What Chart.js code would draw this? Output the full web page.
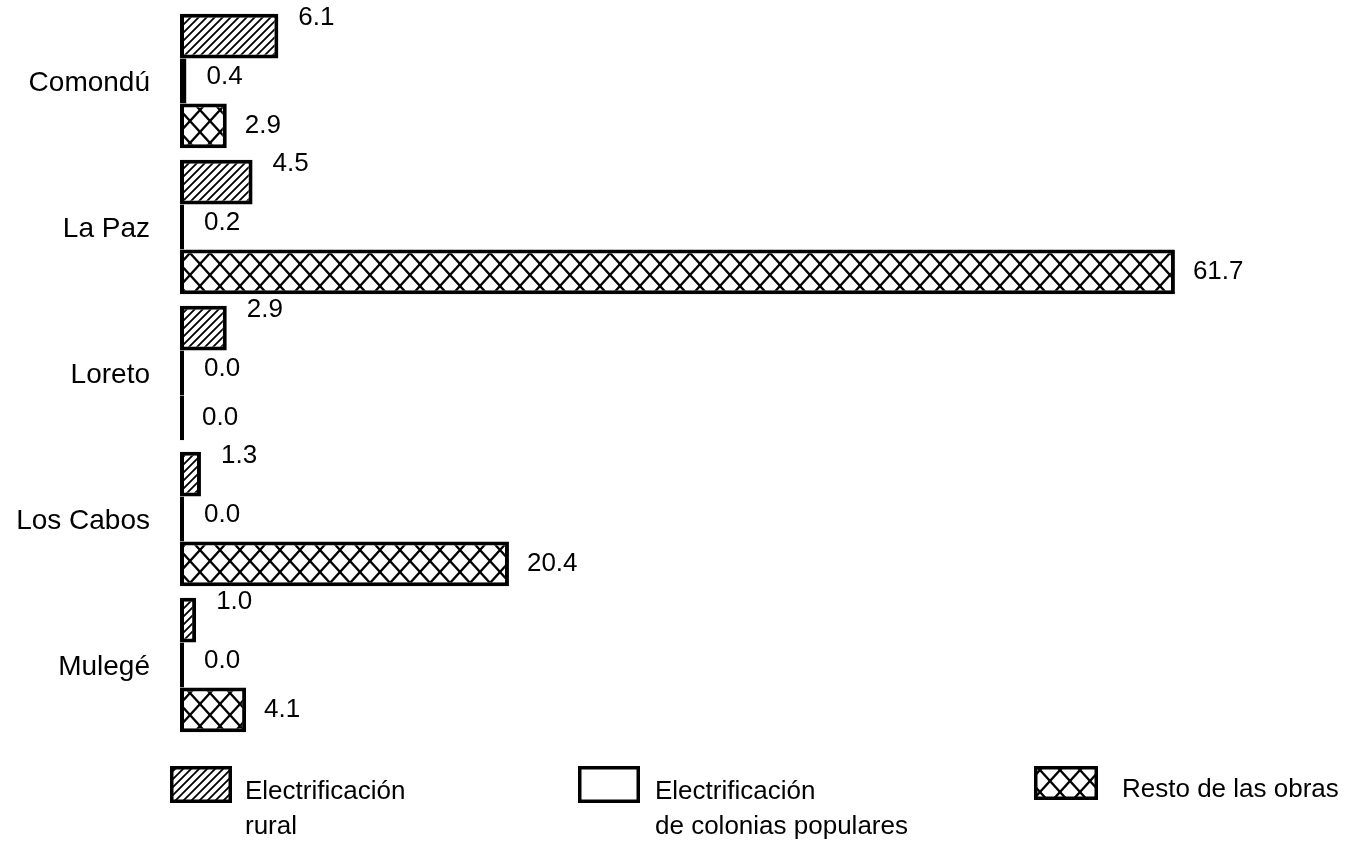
<!DOCTYPE html>
<html>
<head>
<meta charset="utf-8">
<script src="https://cdn.jsdelivr.net/npm/chart.js@4.4.1/dist/chart.umd.min.js"></script>
<style>
  html, body { margin: 0; padding: 0; background: #fff; }
  #wrap { width: 1360px; height: 848px; }
</style>
</head>
<body>
<div id="wrap"><canvas id="chart"></canvas></div>
<script>
const municipios = ['Comondú', 'La Paz', 'Loreto', 'Los Cabos', 'Mulegé'];
const electrificacionRural = [6.1, 4.5, 2.9, 1.3, 1.0];
const coloniasPopulares = [0.4, 0.2, 0.0, 0.0, 0.0];
const restoObras = [2.9, 61.7, 0.0, 20.4, 4.1];
const serieNombres = [
    ['Electrificación', 'rural'],
    ['Electrificación', 'de colonias populares'],
    ['Resto de las obras'],
];

const FONT = "'Liberation Sans', Arial, Helvetica, sans-serif";
const canvas = document.getElementById('chart');
const mainCtx = canvas.getContext('2d');

function makePattern(w, h, draw) {
    const tile = document.createElement('canvas');
    tile.width = w;
    tile.height = h;
    const g = tile.getContext('2d');
    g.fillStyle = '#fff';
    g.fillRect(0, 0, w, h);
    g.strokeStyle = '#000';
    draw(g);
    return mainCtx.createPattern(tile, 'repeat');
}

// diagonal "/" hatch for rural electrification
const ruralFill = makePattern(8, 8, (g) => {
    g.lineWidth = 1.8;
    g.beginPath();
    g.moveTo(-2, 10); g.lineTo(10, -2);
    g.moveTo(-2, 2); g.lineTo(2, -2);
    g.moveTo(6, 10); g.lineTo(10, 6);
    g.stroke();
});

// diamond cross-hatch for the rest of the works
const restoFill = makePattern(20, 22, (g) => {
    g.lineWidth = 2.3;
    g.beginPath();
    g.moveTo(-1, -1.1); g.lineTo(21, 23.1);
    g.moveTo(21, -1.1); g.lineTo(-1, 23.1);
    g.stroke();
});

const fills = [ruralFill, '#fff', restoFill];
// label offsets per series (dx from bar end, dy from bar centre)
const labelShift = [{ dx: 20, dy: -18 }, { dx: 20, dy: -4 }, { dx: 18, dy: 0 }];

const valueLabels = {
    id: 'valueLabels',
    afterDatasetsDraw(chart) {
        const { ctx } = chart;
        ctx.save();
        ctx.font = `26px ${FONT}`;
        ctx.fillStyle = '#000';
        ctx.textAlign = 'left';
        ctx.textBaseline = 'middle';
        chart.data.datasets.forEach((ds, di) => {
            const meta = chart.getDatasetMeta(di);
            meta.data.forEach((bar, i) => {
                const end = Math.max(bar.x, bar.base);
                ctx.fillText(ds.data[i].toFixed(1), end + labelShift[di].dx, bar.y + labelShift[di].dy);
            });
        });
        ctx.restore();
    }
};

// category names at the left of the bars
const categoryLabels = {
    id: 'categoryLabels',
    afterDraw(chart) {
        const { ctx } = chart;
        const yScale = chart.scales.y;
        ctx.save();
        ctx.font = `28px ${FONT}`;
        ctx.fillStyle = '#000';
        ctx.textAlign = 'right';
        ctx.textBaseline = 'middle';
        chart.data.labels.forEach((name, i) => {
            ctx.fillText(name, chart.chartArea.left - 30, yScale.getPixelForValue(i) + 2);
        });
        ctx.restore();
    }
};

const legendBoxes = [
    { x: 170, y: 766, w: 62, h: 37, tx: 245, ty: 792 },
    { x: 578, y: 766, w: 62, h: 37, tx: 655, ty: 792 },
    { x: 1034, y: 766, w: 64, h: 34, tx: 1122, ty: 790 },
];

const bottomLegend = {
    id: 'bottomLegend',
    afterDraw(chart) {
        const { ctx } = chart;
        ctx.save();
        ctx.font = `26px ${FONT}`;
        ctx.textAlign = 'left';
        ctx.textBaseline = 'middle';
        chart.data.datasets.forEach((ds, di) => {
            const b = legendBoxes[di];
            ctx.fillStyle = ds.backgroundColor;
            ctx.fillRect(b.x, b.y, b.w, b.h);
            ctx.lineWidth = 3.5;
            ctx.strokeStyle = '#000';
            ctx.strokeRect(b.x + 1.75, b.y + 1.75, b.w - 3.5, b.h - 3.5);
            ctx.fillStyle = '#000';
            serieNombres[di].forEach((line, li) => {
                ctx.fillText(line, b.tx, b.ty + li * 35);
            });
        });
        ctx.restore();
    }
};

const seriesData = [electrificacionRural, coloniasPopulares, restoObras];

new Chart(canvas, {
    type: 'bar',
    data: {
        labels: municipios,
        datasets: seriesData.map((values, i) => ({
            label: serieNombres[i].join(' '),
            data: values,
            backgroundColor: fills[i],
            borderColor: '#000',
            borderWidth: 4,
            borderSkipped: false,
            minBarLength: 4,
            categoryPercentage: 0.92,
            barPercentage: 1.0,
        })),
    },
    options: {
        indexAxis: 'y',
        responsive: true,
        maintainAspectRatio: false,
        animation: false,
        layout: { padding: { top: 8, right: 19, bottom: 110, left: 180 } },
        plugins: {
            legend: { display: false },
            tooltip: { enabled: false },
        },
        scales: {
            x: {
                display: false,
                min: 0,
                max: 72,
            },
            y: {
                display: false,
            },
        },
    },
    plugins: [valueLabels, categoryLabels, bottomLegend],
});
</script>
</body>
</html>
